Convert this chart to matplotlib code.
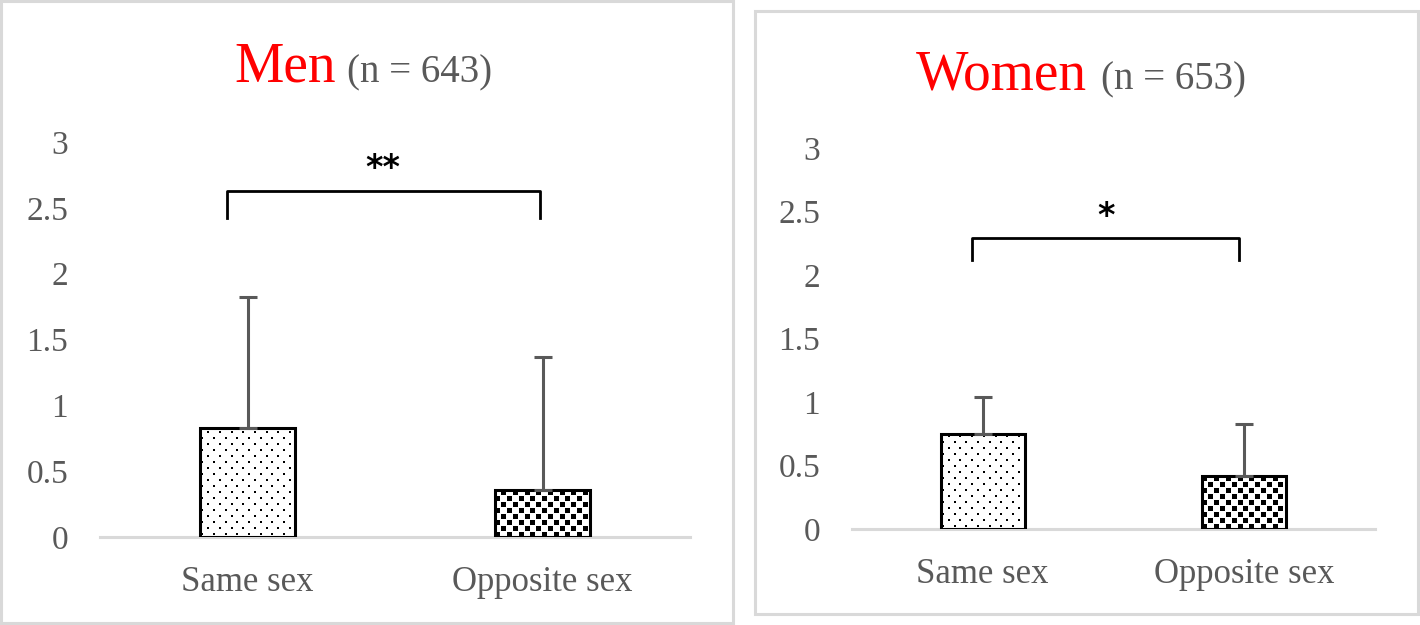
import numpy as np
import matplotlib
matplotlib.use("Agg")
import matplotlib.pyplot as plt
from matplotlib.patches import Rectangle

plt.rcParams['font.family'] = ['Liberation Serif', 'DejaVu Serif']

# ---------------------------------------------------------------
# Data
# ---------------------------------------------------------------
categories = ["Same sex", "Opposite sex"]
men_mean   = [0.83, 0.36]
men_sd     = [0.99, 1.01]
women_mean = [0.75, 0.42]
women_sd   = [0.29, 0.41]
yticks      = [0, 0.5, 1, 1.5, 2, 2.5, 3]
ytick_labels = ["0", "0.5", "1", "1.5", "2", "2.5", "3"]
men_n   = 643
women_n = 653
men_sig   = "**"
women_sig = "*"

GREY_TXT  = "#595959"
GREY_LINE = "#d9d9d9"
W, H = 1420, 625
fig = plt.figure(figsize=(W / 100, H / 100), dpi=100)

# panel borders (pixel boxes: x0, y0_top, x1, y1_bottom)
for x0, y0, x1, y1 in [(1, 1, 733, 623), (755, 11, 1418, 614)]:
    fig.patches.append(Rectangle((x0 / W, 1 - y1 / H), (x1 - x0) / W, (y1 - y0) / H,
                                 transform=fig.transFigure, fill=False,
                                 edgecolor=GREY_LINE, lw=2.2))


def px_axes(x0, x1, ytop, ybot):
    return fig.add_axes([x0 / W, 1 - ybot / H, (x1 - x0) / W, (ybot - ytop) / H])


def textured_bar(ax, x, h, width, dx, dy, size_px):
    """bar with a staggered grid of small black squares inside"""
    base = ax.bar(x, h, width, color="white", edgecolor="none", zorder=1)[0]
    (px0, py0), (px1, py1) = ax.transData.transform([(x - width / 2, 0), (x + width / 2, h)])
    pts = []
    for i, yy in enumerate(np.arange(py0 + dy / 2, py1, dy)):
        off = dx / 2 if i % 2 else 0
        for xx in np.arange(px0 + 2 + off, px1, dx):
            pts.append((xx, yy))
    pts = ax.transData.inverted().transform(np.array(pts))
    sz = size_px * 72 / 100
    sc = ax.scatter(pts[:, 0], pts[:, 1], marker="s", s=sz ** 2, color="black",
                    linewidths=0, zorder=2)
    sc.set_clip_path(base)
    ax.bar(x, h, width, fill=False, edgecolor="black", lw=2.2, zorder=3)


def panel(ax, means, sds, sig, bx0, bx1, by, bdrop, sig_y):
    ax.set_xlim(-0.5, 1.5)
    ax.set_ylim(0, 3)
    xs = np.arange(len(categories))
    textured_bar(ax, xs[0], means[0], 0.32, 11.7, 6.0, 2.9)
    textured_bar(ax, xs[1], means[1], 0.32, 11.7, 6.0, 5.0)
    ax.errorbar(xs, means, yerr=[np.zeros(len(sds)), sds], fmt="none",
                ecolor=GREY_TXT, elinewidth=2.2, capsize=6.5, capthick=2.2, zorder=4)
    # significance bracket
    ax.plot([bx0, bx0, bx1, bx1], [by - bdrop, by, by, by - bdrop],
            color="black", lw=2.0, zorder=5, clip_on=False)
    ax.text((bx0 + bx1) / 2, sig_y, sig, ha="center", va="center",
            fontsize=24, family="DejaVu Sans", fontweight="bold", color="black")
    ax.set_xticks(xs)
    ax.set_xticklabels(categories, fontsize=25, color=GREY_TXT)
    ax.set_yticks(yticks)
    ax.set_yticklabels(ytick_labels, fontsize=24, color=GREY_TXT)
    ax.tick_params(axis="both", length=0)
    ax.tick_params(axis="y", pad=23)
    ax.tick_params(axis="x", pad=21)
    for s in ["top", "right", "left"]:
        ax.spines[s].set_visible(False)
    ax.spines["bottom"].set_color(GREY_LINE)
    ax.spines["bottom"].set_linewidth(2.2)
    ax.patch.set_alpha(0)


ax1 = px_axes(100, 690, 142, 537)
panel(ax1, men_mean, men_sd, men_sig, -0.07, 0.99, 2.63, 0.21, 2.80)
ax2 = px_axes(852, 1375, 148, 529)
panel(ax2, women_mean, women_sd, women_sig, -0.04, 0.98, 2.29, 0.17, 2.46)

# titles
fig.text(336 / W, 1 - 82 / H, "Men", color="red", fontsize=40, ha="right", va="baseline")
fig.text(347 / W, 1 - 82 / H, f"(n = {men_n})", color=GREY_TXT, fontsize=28,
         ha="left", va="baseline")
fig.text(1087 / W, 1 - 89 / H, "Women", color="red", fontsize=40, ha="right", va="baseline")
fig.text(1101 / W, 1 - 89 / H, f"(n = {women_n})", color=GREY_TXT, fontsize=28,
         ha="left", va="baseline")

fig.savefig("out.png", dpi=100)
